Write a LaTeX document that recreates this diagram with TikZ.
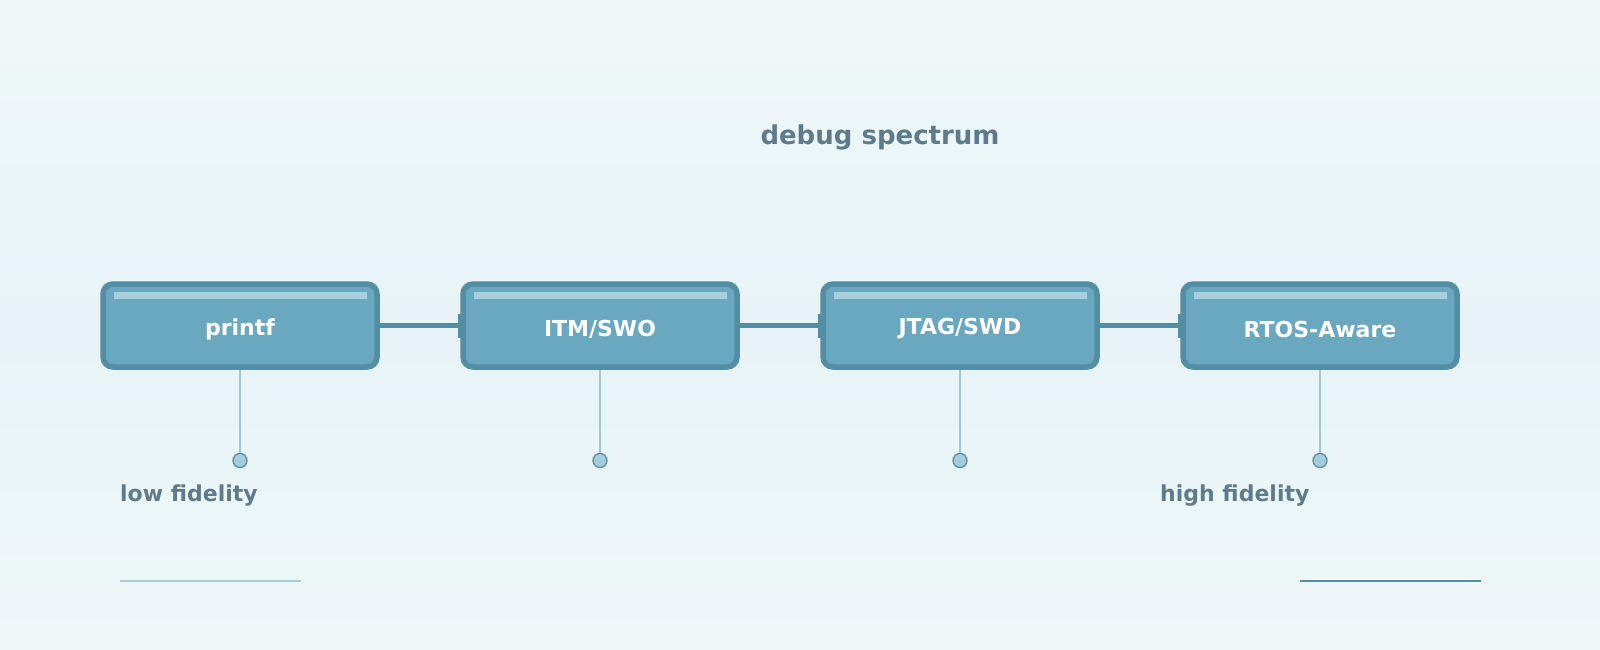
\documentclass[tikz,border=0pt]{standalone}
\usepackage{fontspec}
\setmainfont{DejaVu Sans}
\usetikzlibrary{arrows.meta}
\definecolor{bgtop}{HTML}{EEF8F9}
\definecolor{bgmid}{HTML}{E7F3F6}
\definecolor{boxfill}{HTML}{6AA8C0}
\definecolor{boxedge}{HTML}{548EA4}
\definecolor{boxhi}{HTML}{A6CEDD}
\definecolor{stemcol}{HTML}{9DC6D6}
\definecolor{dotfill}{HTML}{A8CDDC}
\definecolor{titlecol}{HTML}{5F7A8A}
\definecolor{lightline}{HTML}{A8CADB}
\tikzset{
  stagebox/.style={draw=boxedge, fill=boxfill, line width=5.5pt, rounded corners=10pt,
    minimum width=274pt, minimum height=83pt, inner sep=0pt},
  stagelabel/.style={text=white, font=\fontsize{22}{26}\selectfont\bfseries, inner sep=0pt},
  hibar/.style={fill=boxhi, draw=none},
  link/.style={draw=boxedge, line width=4.5pt, -{Rectangle[length=4pt,width=24pt]}},
  stem/.style={draw=stemcol, line width=2pt},
  dot/.style={circle, fill=dotfill, draw=boxedge, line width=1.3pt, minimum size=14pt, inner sep=0pt},
  sidelabel/.style={text=titlecol, font=\fontsize{22}{26}\selectfont\bfseries, anchor=base west, inner sep=0pt},
}
\begin{document}
\begin{tikzpicture}[x=1pt,y=-1pt]
\useasboundingbox (0,0) rectangle (1600,650);
\shade[top color=bgtop, bottom color=bgmid] (0,0) rectangle (1600,330);
\shade[top color=bgmid, bottom color=bgtop] (0,330) rectangle (1600,650);
\fill[bgtop] (0,0) rectangle (1600,63);
\fill[bgtop,opacity=0.6] (0,587) rectangle (1600,650);

\node[text=titlecol, font=\fontsize{26}{30}\selectfont\bfseries, anchor=base] (title) at (880,145) {debug spectrum};

\foreach \n/\x in {a/240,b/600,c/960,d/1320}{
  \node[stagebox] (\n) at (\x,325.5) {};
  \fill[boxhi] (\x-126.5,292) rectangle (\x+126.5,299);
  \node[dot] (\n dot) at (\x,460.5) {};
  \draw[stem] (\n.south) -- (\n dot.north);
}
\node[stagelabel] (la) at (240,329) {printf};
\node[stagelabel] (lb) at (600,329) {ITM/SWO};
\node[stagelabel] (lc) at (960,329) {JTAG/SWD};
\node[stagelabel] (ld) at (1320,329) {RTOS-Aware};

\draw[link] (a.east) -- ([xshift=2pt]b.west);
\draw[link] (b.east) -- ([xshift=2pt]c.west);
\draw[link] (c.east) -- ([xshift=2pt]d.west);

\node[sidelabel] (low) at (120,501) {low fidelity};
\node[sidelabel] (high) at (1160,501) {high fidelity};

\coordinate (l1) at (120,580.5);
\coordinate (l2) at (301,580.5);
\coordinate (r1) at (1300,580.5);
\coordinate (r2) at (1481,580.5);
\draw[lightline, line width=2pt] (l1) -- (l2);
\draw[boxedge, line width=2pt] (r1) -- (r2);
\end{tikzpicture}
\end{document}
